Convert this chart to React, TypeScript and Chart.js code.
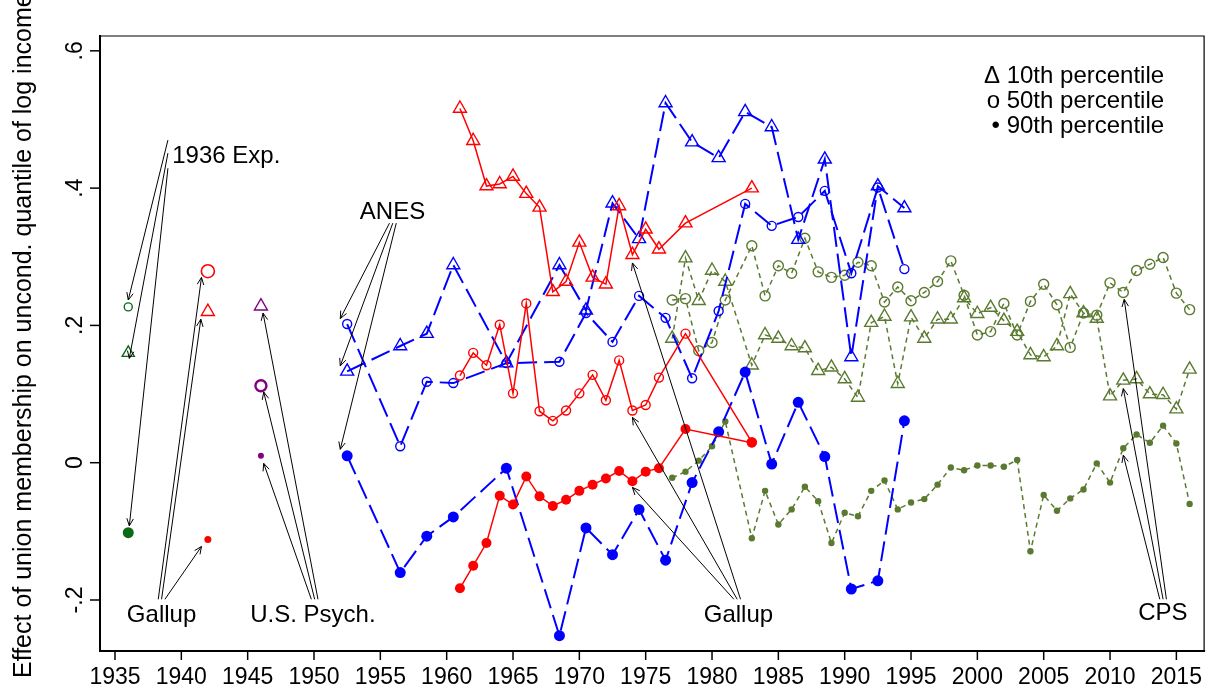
import React, { useEffect, useRef } from "react";
import { Chart, registerables } from "chart.js";

Chart.register(...registerables);

const FONT = '"Liberation Sans", Arial, Helvetica, sans-serif';

// ---------- ANES (blue, long dash) ----------
const anesYears = [1952.5, 1956.5, 1958.5, 1960.5, 1964.5, 1968.5, 1970.5, 1972.5, 1974.5, 1976.5, 1978.5, 1980.5, 1982.5, 1984.5, 1986.5, 1988.5, 1990.5, 1992.5, 1994.5];
const anesP10 = [0.133, 0.170, 0.188, 0.288, 0.145, 0.288, 0.222, 0.378, 0.326, 0.524, 0.467, 0.444, 0.511, 0.489, 0.325, 0.442, 0.154, 0.403, 0.371];
const anesP50 = [0.202, 0.024, 0.118, 0.116, 0.145, 0.147, 0.218, 0.176, 0.243, 0.211, 0.123, 0.221, 0.377, 0.345, 0.358, 0.396, 0.276, 0.401, 0.282];
const anesP90 = [0.010, -0.160, -0.107, -0.079, -0.008, -0.252, -0.095, -0.134, -0.068, -0.142, -0.029, 0.045, 0.132, -0.002, 0.088, 0.009, -0.184, -0.172, 0.061];

// ---------- Gallup (red, solid) ----------
const gallupYears = [1961, 1962, 1963, 1964, 1965, 1966, 1967, 1968, 1969, 1970, 1971, 1972, 1973, 1974, 1975, 1976, 1978, 1983];
const gallupP10 = [0.516, 0.469, 0.403, 0.406, 0.417, 0.392, 0.372, 0.249, 0.264, 0.321, 0.270, 0.260, 0.374, 0.303, 0.340, 0.311, 0.349, 0.400];
const gallupP50 = [0.127, 0.160, 0.142, 0.201, 0.101, 0.232, 0.075, 0.061, 0.076, 0.101, 0.128, 0.091, 0.149, 0.076, 0.084, 0.124, 0.188, 0.030];
const gallupP90 = [-0.183, -0.150, -0.117, -0.048, -0.061, -0.020, -0.049, -0.063, -0.054, -0.041, -0.032, -0.023, -0.012, -0.027, -0.013, -0.008, 0.049, 0.029];

// ---------- CPS (olive, short dash) ----------
const cpsYears = [1977, 1978, 1979, 1980, 1981, 1983, 1984, 1985, 1986, 1987, 1988, 1989, 1990, 1991, 1992, 1993, 1994, 1995, 1996, 1997, 1998, 1999, 2000, 2001, 2002, 2003, 2004, 2005, 2006, 2007, 2008, 2009, 2010, 2011, 2012, 2013, 2014, 2015, 2016];
const cpsP10 = [0.181, 0.298, 0.236, 0.280, 0.264, 0.142, 0.186, 0.181, 0.170, 0.167, 0.134, 0.139, 0.122, 0.095, 0.204, 0.213, 0.115, 0.212, 0.181, 0.209, 0.209, 0.240, 0.217, 0.226, 0.207, 0.191, 0.157, 0.154, 0.170, 0.246, 0.218, 0.210, 0.097, 0.120, 0.122, 0.100, 0.099, 0.078, 0.136];
const cpsP50 = [0.237, 0.239, 0.163, 0.175, 0.237, 0.316, 0.243, 0.287, 0.276, 0.327, 0.278, 0.270, 0.273, 0.292, 0.287, 0.234, 0.256, 0.236, 0.248, 0.264, 0.294, 0.244, 0.186, 0.191, 0.232, 0.186, 0.235, 0.260, 0.230, 0.168, 0.218, 0.215, 0.262, 0.248, 0.280, 0.289, 0.299, 0.247, 0.223];
const cpsP90 = [-0.022, -0.013, 0.003, 0.024, 0.060, -0.110, -0.041, -0.090, -0.068, -0.035, -0.056, -0.117, -0.073, -0.078, -0.041, -0.026, -0.068, -0.058, -0.053, -0.032, -0.007, -0.011, -0.004, -0.004, -0.006, 0.004, -0.129, -0.047, -0.070, -0.052, -0.039, -0.001, -0.029, 0.021, 0.041, 0.029, 0.054, 0.028, -0.060];

// ---------- single-year surveys ----------
const exp1936Year = [1936];
const exp1936P10 = [0.160];
const exp1936P50 = [0.227];
const exp1936P90 = [-0.102];

const gallup1942Year = [1942];
const gallup1942P10 = [0.220];
const gallup1942P50 = [0.279];
const gallup1942P90 = [-0.112];

const psych1946Year = [1946];
const psych1946P10 = [0.228];
const psych1946P50 = [0.112];
const psych1946P90 = [0.010];

// ---------- axes ----------
const xTickValues = [1935, 1940, 1945, 1950, 1955, 1960, 1965, 1970, 1975, 1980, 1985, 1990, 1995, 2000, 2005, 2010, 2015];
const xTickLabels = ["1935", "1940", "1945", "1950", "1955", "1960", "1965", "1970", "1975", "1980", "1985", "1990", "1995", "2000", "2005", "2010", "2015"];
const yTickValues = [-0.2, 0, 0.2, 0.4, 0.6];
const yTickLabels = ["-.2", "0", ".2", ".4", ".6"];
const yTitle = "Effect of union membership on uncond. quantile of log income";
const legendLines = ["\u0394 10th percentile", "o 50th percentile", "\u2022 90th percentile"];

// ---------- annotations (data coordinates) ----------
const annText = ["1936 Exp.", "Gallup", "U.S. Psych.", "ANES", "Gallup", "CPS"];
const annTextX = [1943.39, 1938.51, 1949.92, 1955.92, 1981.99, 2013.98];
const annTextY = [0.449, -0.219, -0.219, 0.368, -0.219, -0.217];

const arrowFromX = [1938.99, 1938.99, 1938.99, 1938.26, 1938.51, 1938.76, 1949.80, 1950.05, 1950.30, 1955.69, 1955.94, 1956.20, 1981.65, 1981.90, 1982.15, 2013.75, 2014.00, 2014.25];
const arrowFromY = [0.470, 0.451, 0.429, -0.199, -0.199, -0.199, -0.199, -0.199, -0.199, 0.349, 0.349, 0.349, -0.199, -0.199, -0.199, -0.199, -0.199, -0.199];
const arrowToX = [1936.0, 1936.08, 1936.08, 1941.52, 1941.47, 1941.52, 1946.21, 1946.21, 1946.16, 1951.98, 1951.98, 1951.98, 1974.0, 1974.0, 1974.0, 2011.0, 2011.0, 2011.07];
const arrowToY = [0.237, 0.152, -0.092, 0.270, 0.209, -0.122, -0.001, 0.103, 0.218, 0.210, 0.141, 0.0195, -0.036, 0.066, 0.291, 0.011, 0.108, 0.238];

const BLUE = "#0000ff";
const RED = "#ff0000";
const OLIVE = "#5a7a30";
const DKGREEN = "#0b6a16";
const PURPLE = "#800080";

const pts = (xs: number[], ys: number[]) => xs.map((x, i) => ({ x, y: ys[i] }));

function series(label: string, xs: number[], ys: number[], color: string, style: string, radius: number, filled: boolean, line: { dash: number[]; width: number } | null, pbw = 1.4) {
  return {
    label,
    data: pts(xs, ys),
    borderColor: color,
    backgroundColor: color,
    borderWidth: line ? line.width : 0,
    borderDash: line ? line.dash : [],
    showLine: !!line,
    tension: 0,
    pointStyle: style,
    pointRadius: radius,
    pointHoverRadius: radius,
    pointBorderColor: color,
    pointBackgroundColor: filled ? color : "rgba(0,0,0,0)",
    pointBorderWidth: filled ? 0 : pbw,
  };
}

function drawArrow(ctx: CanvasRenderingContext2D, x1: number, y1: number, x2: number, y2: number) {
  ctx.beginPath();
  ctx.moveTo(x1, y1);
  ctx.lineTo(x2, y2);
  ctx.stroke();
  const a = Math.atan2(y2 - y1, x2 - x1);
  const L = 8;
  const w = 0.42;
  ctx.beginPath();
  ctx.moveTo(x2 - L * Math.cos(a - w), y2 - L * Math.sin(a - w));
  ctx.lineTo(x2, y2);
  ctx.lineTo(x2 - L * Math.cos(a + w), y2 - L * Math.sin(a + w));
  ctx.stroke();
}

const overlay = {
  id: "overlay",
  afterDraw(chart: any) {
    const ctx: CanvasRenderingContext2D = chart.ctx;
    const xs = chart.scales.x;
    const ys = chart.scales.y;
    const { left, right, top, bottom } = chart.chartArea;
    ctx.save();
    ctx.strokeStyle = "#000";
    ctx.fillStyle = "#000";
    ctx.setLineDash([]);

    // frame
    ctx.lineWidth = 1.2;
    ctx.beginPath();
    ctx.moveTo(left, top);
    ctx.lineTo(right, top);
    ctx.lineTo(right, bottom);
    ctx.stroke();
    ctx.lineWidth = 2;
    ctx.beginPath();
    ctx.moveTo(left, top - 1);
    ctx.lineTo(left, bottom);
    ctx.lineTo(right + 1, bottom);
    ctx.stroke();

    // ticks
    ctx.lineWidth = 1.5;
    xTickValues.forEach((v) => {
      const px = xs.getPixelForValue(v);
      ctx.beginPath();
      ctx.moveTo(px, bottom);
      ctx.lineTo(px, bottom + 9);
      ctx.stroke();
    });
    yTickValues.forEach((v) => {
      const py = ys.getPixelForValue(v);
      ctx.beginPath();
      ctx.moveTo(left, py);
      ctx.lineTo(left - 10, py);
      ctx.stroke();
    });

    // x tick labels
    ctx.font = `23px ${FONT}`;
    ctx.textAlign = "center";
    ctx.textBaseline = "alphabetic";
    xTickValues.forEach((v, i) => {
      ctx.fillText(xTickLabels[i], xs.getPixelForValue(v), bottom + 33);
    });

    // y tick labels (rotated)
    yTickValues.forEach((v, i) => {
      const py = ys.getPixelForValue(v);
      ctx.save();
      ctx.translate(left - 18, py);
      ctx.rotate(-Math.PI / 2);
      ctx.textAlign = "center";
      ctx.fillText(yTickLabels[i], 0, 0);
      ctx.restore();
    });

    // y title
    ctx.save();
    ctx.font = `25px ${FONT}`;
    ctx.translate(31, 678);
    ctx.rotate(-Math.PI / 2);
    ctx.textAlign = "left";
    ctx.fillText(yTitle, 0, 0);
    ctx.restore();

    // legend
    ctx.font = `24px ${FONT}`;
    ctx.textAlign = "right";
    legendLines.forEach((t, i) => {
      ctx.fillText(t, right - 40, top + 47 + i * 25);
    });

    // annotation labels
    ctx.font = `24px ${FONT}`;
    ctx.textAlign = "center";
    annText.forEach((t, i) => {
      ctx.fillText(t, xs.getPixelForValue(annTextX[i]), ys.getPixelForValue(annTextY[i]) + 8.5);
    });

    // arrows
    ctx.lineWidth = 1;
    arrowFromX.forEach((_, i) => {
      drawArrow(
        ctx,
        xs.getPixelForValue(arrowFromX[i]),
        ys.getPixelForValue(arrowFromY[i]),
        xs.getPixelForValue(arrowToX[i]),
        ys.getPixelForValue(arrowToY[i])
      );
    });
    ctx.restore();
  },
};

export default function App() {
  const ref = useRef<HTMLCanvasElement>(null);
  useEffect(() => {
    const canvas = ref.current;
    if (!canvas) return;
    const anesLine = { dash: [20, 7], width: 2 };
    const gallupLine = { dash: [] as number[], width: 1.5 };
    const cpsLine = { dash: [5, 4], width: 1.5 };
    const chart = new Chart(canvas, {
      type: "line",
      data: {
        datasets: [
          series("Gallup 90", gallupYears, gallupP90, RED, "circle", 5, true, gallupLine),
          series("Gallup 50", gallupYears, gallupP50, RED, "circle", 4.5, false, gallupLine),
          series("Gallup 10", gallupYears, gallupP10, RED, "triangle", 7.5, false, gallupLine),
          series("ANES 90", anesYears, anesP90, BLUE, "circle", 5.5, true, anesLine),
          series("ANES 50", anesYears, anesP50, BLUE, "circle", 4.5, false, anesLine),
          series("ANES 10", anesYears, anesP10, BLUE, "triangle", 7.5, false, anesLine),
          series("CPS 90", cpsYears, cpsP90, OLIVE, "circle", 3.2, true, cpsLine),
          series("CPS 50", cpsYears, cpsP50, OLIVE, "circle", 5, false, cpsLine),
          series("CPS 10", cpsYears, cpsP10, OLIVE, "triangle", 7.5, false, cpsLine),
          series("1936 90", exp1936Year, exp1936P90, DKGREEN, "circle", 5.5, true, null),
          series("1936 50", exp1936Year, exp1936P50, DKGREEN, "circle", 4, false, null),
          series("1936 10", exp1936Year, exp1936P10, DKGREEN, "triangle", 7, false, null),
          series("1942 90", gallup1942Year, gallup1942P90, RED, "circle", 3.5, true, null),
          series("1942 50", gallup1942Year, gallup1942P50, RED, "circle", 6.5, false, null, 1.6),
          series("1942 10", gallup1942Year, gallup1942P10, RED, "triangle", 7.5, false, null),
          series("1946 90", psych1946Year, psych1946P90, PURPLE, "circle", 3, true, null),
          series("1946 50", psych1946Year, psych1946P50, PURPLE, "circle", 5.5, false, null, 2.4),
          series("1946 10", psych1946Year, psych1946P10, PURPLE, "triangle", 7.5, false, null),
        ] as any,
      },
      options: {
        animation: false,
        responsive: false,
        devicePixelRatio: 1,
        layout: { padding: { left: 100, top: 36, right: 7, bottom: 38 } },
        plugins: { legend: { display: false }, tooltip: { enabled: false }, title: { display: false } },
        events: [],
        scales: {
          x: { type: "linear", display: false, min: 1933.87, max: 2017.09 },
          y: { type: "linear", display: false, min: -0.2743, max: 0.6216 },
        },
      } as any,
      plugins: [overlay],
    });
    return () => chart.destroy();
  }, []);
  return (
    <div style={{ position: "fixed", left: 0, top: 0, width: 1213, height: 689, background: "#fff" }}>
      <canvas ref={ref} width={1213} height={689} style={{ display: "block", width: 1213, height: 689 }} />
    </div>
  );
}
